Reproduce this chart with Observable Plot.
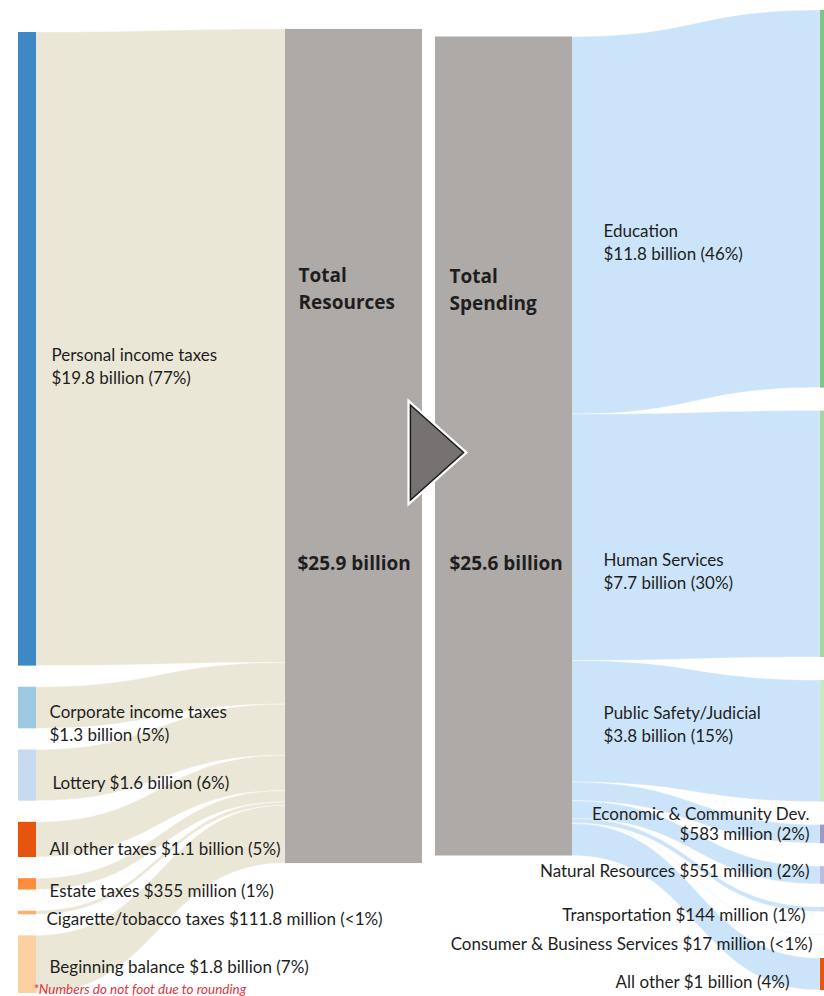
<!DOCTYPE html>
<html><head><meta charset="utf-8">
<script src="https://cdn.jsdelivr.net/npm/d3@7"></script>
<script src="https://cdn.jsdelivr.net/npm/@observablehq/plot@0.6"></script>
<style>body{margin:0;background:#fff}#chart svg{display:block}</style>
</head><body><div id="chart"></div>
<script>
// ---- data (billions of dollars) ----
const sources = ["Personal income taxes","Corporate income taxes","Lottery","All other taxes","Estate taxes","Cigarette/tobacco taxes","Beginning balance"];
const sourceValues = [19.8, 1.3, 1.6, 1.1, 0.355, 0.1118, 1.8];
const sourceLabels = ["Personal income taxes\n$19.8 billion (77%)","Corporate income taxes\n$1.3 billion (5%)","Lottery $1.6 billion (6%)","All other taxes $1.1 billion (5%)","Estate taxes $355 million (1%)","Cigarette/tobacco taxes $111.8 million (<1%)","Beginning balance $1.8 billion (7%)"];
const uses = ["Education","Human Services","Public Safety/Judicial","Economic & Community Dev.","Natural Resources","Transportation","Consumer & Business Services","All other"];
const useValues = [11.8, 7.7, 3.8, 0.583, 0.551, 0.144, 0.017, 1.0];
const useLabels = ["Education\n$11.8 billion (46%)","Human Services\n$7.7 billion (30%)","Public Safety/Judicial\n$3.8 billion (15%)","Economic & Community Dev.\n$583 million (2%)","Natural Resources $551 million (2%)","Transportation $144 million (1%)","Consumer & Business Services $17 million (<1%)","All other $1 billion (4%)"];
const totalTitles = ["Total\nResources","Total\nSpending"];
const totalLabels = ["$25.9 billion","$25.6 billion"];
const note = "*Numbers do not foot due to rounding";

// ---- styles ----
const sourceColors = ["#3e88c5","#9ecae1","#c6dbef","#e6550d","#fd8d3c","#fdae6b","#fdd0a2"];
const useColors = ["#7cc67f","#a1d99b","#c7e9c0","#9e9ac8","#bcbddc","#dadaeb","#efedf5","#e6550d"];
const sourceLabelDx = [51,49,52,49,49,46,49];
const sourceLabelDy = [15.7,13.9,5.8,7.4,4.9,4.2,0.5];
const useLabelDy = [41.7,35.7,-18.3,-11,-5,4.7,8,7];
const useLabelX = [603,603,603,809,809,805,812,789];
const useAnchor = ["start","start","start","end","end","end","end","end"];

// ---- layout ----
const W = 824, H = 996, K = 32; // px per billion
const px = v => v / K;
function stack(values, topPx, botPx) {
  const sum = d3.sum(values);
  const pad = (px(botPx - topPx) - sum) / (values.length - 1);
  let y = px(topPx);
  return values.map(v => { const n = {y0: y, y1: y + v}; y += v + pad; return n; });
}
const col = {srcX1: 18, srcX2: 36, resX1: 285, resX2: 422, spX1: 435, spX2: 572, useX1: 820, useX2: 826};
const leftNodes = stack(sourceValues, 32, 993);
const rightNodes = stack(useValues, 10, 990);
const midY = px(446);
const resSum = d3.sum(sourceValues), spSum = d3.sum(useValues);
const res = {y0: midY - resSum / 2, y1: midY + resSum / 2};
const sp = {y0: midY - spSum / 2, y1: midY + spSum / 2};

const nodes = [
  ...sourceValues.map((v, i) => ({x1: col.srcX1, x2: col.srcX2, y1: leftNodes[i].y0, y2: leftNodes[i].y1, fill: sourceColors[i]})),
  ...useValues.map((v, i) => ({x1: col.useX1, x2: col.useX2, y1: rightNodes[i].y0, y2: rightNodes[i].y1, fill: useColors[i]})),
  {x1: col.resX1, x2: col.resX2, y1: res.y0, y2: res.y1, fill: "#aeaaa8"},
  {x1: col.spX1, x2: col.spX2, y1: sp.y0, y2: sp.y1, fill: "#aeaaa8"}
];

const leftLinks = [];
let acc = res.y0;
sourceValues.forEach((v, i) => {
  leftLinks.push({id: i, x: col.srcX2, y1: leftNodes[i].y0, y2: leftNodes[i].y1});
  leftLinks.push({id: i, x: col.resX1, y1: acc, y2: acc + v});
  acc += v;
});
const rightLinks = [];
acc = sp.y0;
useValues.forEach((v, i) => {
  rightLinks.push({id: i, x: col.spX2, y1: acc, y2: acc + v});
  rightLinks.push({id: i, x: col.useX1, y1: rightNodes[i].y0, y2: rightNodes[i].y1});
  acc += v;
});

const srcText = sources.map((s, i) => ({x: sourceLabelDx[i], y: (leftNodes[i].y0 + leftNodes[i].y1) / 2 + px(sourceLabelDy[i]), text: sourceLabels[i]}));
const useText = uses.map((s, i) => ({x: useLabelX[i], y: (rightNodes[i].y0 + rightNodes[i].y1) / 2 + px(useLabelDy[i]), text: useLabels[i], anchor: useAnchor[i]}));
const useTextStart = useText.filter(d => d.anchor === "start");
const useTextEnd = useText.filter(d => d.anchor === "end");
const titleText = [
  {x: col.resX1 + 13, y: midY - px(160), text: totalTitles[0]},
  {x: col.spX1 + 14, y: midY - px(159), text: totalTitles[1]}
];
const sumText = [
  {x: col.resX1 + 12, y: midY + px(117), text: totalLabels[0]},
  {x: col.spX1 + 14, y: midY + px(117), text: totalLabels[1]}
];

const arrowSymbol = {draw(ctx, size) {
  const r = Math.sqrt(size / Math.PI);
  ctx.moveTo(-0.56 * r, -r); ctx.lineTo(0.56 * r, 0); ctx.lineTo(-0.56 * r, r); ctx.closePath();
}};
const arrow = [{x: (col.resX2 + col.spX1) / 2 + 8, y: midY + px(6)}];

const textColor = "#1e1e1e";
const labelSize = 17;
const chart = Plot.plot({
  width: W, height: H, margin: 0,
  x: {domain: [0, W], range: [0, W], axis: null},
  y: {domain: [0, px(H)], range: [0, H], axis: null},
  color: {type: "identity"},
  style: {fontFamily: "Lato, 'Open Sans', sans-serif", background: "#fff"},
  marks: [
    Plot.area(leftLinks, {x1: "x", y1: "y1", y2: "y2", z: "id", fill: "#ebe7d6", stroke: "#ffffff", strokeWidth: 0.6, strokeOpacity: 0.6, curve: "bump-x"}),
    Plot.area(rightLinks, {x1: "x", y1: "y1", y2: "y2", z: "id", fill: "#cce4f9", stroke: "#ffffff", strokeWidth: 0.6, strokeOpacity: 0.6, curve: "bump-x"}),
    Plot.rect(nodes, {x1: "x1", x2: "x2", y1: "y1", y2: "y2", fill: "fill"}),
    Plot.dot(arrow, {x: "x", y: "y", r: 47.5, symbol: arrowSymbol, fill: "#767272", stroke: "#ffffff", strokeWidth: 6}),
    Plot.dot(arrow, {x: "x", y: "y", r: 47.5, symbol: arrowSymbol, fill: "#767272", stroke: "#1e1e1e", strokeWidth: 1.5}),
    Plot.text(srcText, {x: "x", y: "y", text: "text", textAnchor: "start", lineAnchor: "middle", fontSize: labelSize, lineHeight: 1.35, fill: textColor}),
    Plot.text(useTextStart, {x: "x", y: "y", text: "text", textAnchor: "start", lineAnchor: "middle", fontSize: labelSize, lineHeight: 1.35, fill: textColor}),
    Plot.text(useTextEnd, {x: "x", y: "y", text: "text", textAnchor: "end", lineAnchor: "middle", fontSize: labelSize, lineHeight: 1.2, fill: textColor}),
    Plot.text(titleText, {x: "x", y: "y", text: "text", textAnchor: "start", lineAnchor: "middle", fontSize: 19, fontWeight: "bold", fontFamily: "'Open Sans', sans-serif", lineHeight: 1.45, fill: textColor}),
    Plot.text(sumText, {x: "x", y: "y", text: "text", textAnchor: "start", lineAnchor: "middle", fontSize: 19, fontWeight: "bold", fontFamily: "'Open Sans', sans-serif", fill: textColor}),
    Plot.text([note], {text: (d) => d, frameAnchor: "bottom-left", dx: 33, dy: -3, lineAnchor: "bottom", fontSize: 13.5, fontStyle: "italic", fill: "#e2343c"})
  ]
});
document.getElementById("chart").appendChild(chart);
</script>
</body></html>
